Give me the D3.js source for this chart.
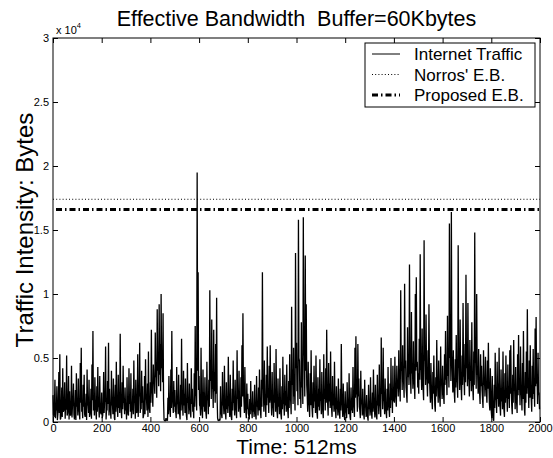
<!DOCTYPE html>
<html>
<head>
<meta charset="utf-8">
<script src="https://d3js.org/d3.v7.min.js"></script>
<style>
body { margin: 0; background: #fff; }
svg text { font-family: "Liberation Sans", Arial, Helvetica, sans-serif; fill: #000; }
.axis line { stroke: #000; }
.axis path { display: none; }
</style>
</head>
<body>
<div id="chart"></div>
<script>
// traffic intensity (bytes), samples at t = 0, 4, 8, ... (512ms units)
var trafficA = [
  2100, 400, 3300, 1200, 2800, 600, 3900, 5300, 300, 2700, 4200, 900, 3100, 1800, 5200, 700, 3600, 2400, 500, 4400, 1300, 3000, 200, 2500, 3800,
  1600, 3400, 800, 4600, 5800, 1100, 2900, 3700, 400, 2200, 4100, 1400, 3300, 600, 2600, 4500, 7100, 1900, 3500, 900, 2800, 4300, 1200, 3600, 700,
  2300, 500, 3900, 1700, 5900, 1000, 3200, 6200, 2600, 800, 4000, 1500, 3400, 300, 2900, 4700, 1100, 3700, 2000, 6900, 900, 3100, 4400, 1600, 2700,
  1300, 3500, 600, 4200, 2100, 3800, 900, 2600, 4800, 1500, 3300, 700, 5300, 2400, 6200, 1200, 4000, 2800, 500, 3600, 4900, 1800, 3000, 5500, 1000,
  3100, 7200, 2200, 4500, 3300, 7000, 4200, 8800, 5000, 9200, 6100, 10000, 5400, 8500, 200, 100, 300, 150, 1900, 3600, 900, 4100, 7100, 1400, 3200,
  2500, 800, 4300, 1600, 3700, 600, 2900, 6500, 1300, 4000, 2200, 3400, 500, 4600, 1800, 3000, 900, 4200, 2600, 1100, 3800, 7500, 2000, 19500, 11700,
  3600, 1200, 5800, 900, 4100, 2300, 3500, 700, 4700, 1900, 3300, 10300, 4400, 8000, 2700, 7200, 3900, 6100, 9700, 300, 150, 250, 2800, 600, 3900,
  1500, 4400, 700, 3100, 2000, 5100, 1200, 3700, 400, 2600, 4800, 1700, 3300, 900, 5600, 2300, 4000, 1000, 3500, 6000, 8500, 1800, 4300, 800, 3000,
  2200, 500, 1800, 3200, 900, 2400, 1200, 2900, 600, 3600, 1500, 2700, 4100, 800, 3300, 11700, 2500, 4800, 1300, 3700, 5900, 2100, 4400, 6000, 1600,
  3900, 1100, 4600, 2300, 5700, 800, 3400, 1900, 4200, 600, 2800, 5100, 1400, 3700, 2400, 4500, 900, 3200, 5300, 1700, 9000, 4100, 5800, 2600, 13200,
  6200, 3500, 15800, 4800, 2900, 7800, 3600, 16000, 5400, 13000, 9200, 2100, 4700, 1300, 3800, 5600, 1000, 3100, 4400, 2000, 5200, 700, 3500, 2600, 4900,
  1700, 3900, 800, 5300, 2500, 4200, 7200, 1400, 4600, 3000, 5500, 1100, 3600, 2200, 4700, 900, 2800, 1500, 3400, 700, 2600, 6100, 1200, 3000, 500,
  2400, 800, 3100, 1600, 3800, 400, 2700, 1900, 4300, 1100, 5800, 6700, 2200, 6100, 3400, 900, 4000, 1500, 2600, 600, 3300, 1200, 2100, 400, 2900,
  1400, 3500, 700, 2300, 4100, 1000, 2900, 500, 3700, 1800, 4500, 1200, 6600, 2800, 5800, 1600, 3400, 800, 2600, 4300, 1100, 3000, 5000, 2000, 4400,
  2700, 5100, 1800, 4400, 3300, 5600, 2500, 10300, 4200, 6000, 3100, 10800, 4800, 2200, 7400, 5300, 12300, 3600, 8600, 4400, 6300, 2900, 10000, 11300, 4700,
  3800, 6500, 13100, 4000, 7300, 2600, 14200, 5100, 8400, 3200, 5600, 9200, 2400, 4600, 1700, 3900, 5200, 1300, 3500, 6400, 2600, 4800, 1900, 5900, 3000,
  4400, 2100, 5300, 7100, 3600, 8300, 4700, 15500, 6200, 16400, 3900, 5600, 2300, 4900, 6800, 3100, 13800, 4200, 8000, 2800, 5200, 9300, 3500, 6100, 11500,
  5000, 9300, 3300, 6400, 4100, 7800, 2700, 5500, 14800, 4600, 10000, 3800, 5700, 2200, 5300, 4400, 1800, 5600, 3400, 5100, 2500, 4800, 6200, 1500, 4200,
  800, 3600, 200, 2900, 5400, 1700, 4700, 3000, 5800, 1200, 4100, 2400, 5500, 900, 3800, 5200, 1900, 4500, 2800, 5600, 6000, 1300, 3700, 6400, 2500,
  4300, 1500, 5300, 6800, 3200, 5900, 2100, 4600, 7100, 1000, 3900, 5500, 8800, 2600, 4800, 6000, 1800, 4400, 5700, 2900, 7300, 8200, 3500, 5400, 2300
];
// samples at t = 2, 6, 10, ...
var trafficB = [
  600, 1200, 300, 900, 150, 1500, 700, 200, 1100, 400, 800, 1300, 250, 950, 500, 1400, 200, 700, 1000, 350, 1600, 600, 900, 150, 1200,
  500, 1000, 200, 1500, 800, 300, 1200, 600, 900, 150, 1300, 700, 400, 1100, 250, 1700, 900, 500, 1400, 200, 800, 1200, 350, 1000, 600,
  300, 1100, 700, 1600, 200, 900, 1400, 500, 1000, 250, 1300, 600, 1800, 150, 800, 1500, 400, 1100, 700, 1900, 300, 1000, 1500, 600, 900,
  200, 1200, 500, 1400, 800, 300, 1100, 600, 1700, 250, 900, 1300, 400, 2000, 700, 1000, 1500, 300, 1200, 600, 1800, 900, 400, 1400, 700,
  1500, 2600, 1200, 3000, 2200, 3500, 1900, 4000, 2800, 3700, 2400, 4200, 3100, 1800, 100, 80, 120, 100, 600, 1300, 400, 1100, 2000, 700, 1200,
  800, 300, 1400, 600, 1100, 200, 900, 1800, 500, 1300, 700, 1000, 150, 1500, 600, 1100, 350, 1400, 800, 300, 1200, 2400, 900, 4000, 2500,
  1300, 500, 1600, 300, 1200, 800, 1400, 250, 1700, 600, 1200, 3200, 1800, 2600, 1100, 2400, 1500, 2200, 1900, 100, 80, 120, 900, 300, 1300,
  600, 1400, 200, 1000, 700, 1600, 400, 1200, 150, 900, 1500, 500, 1100, 300, 1800, 800, 1300, 350, 1200, 2000, 2600, 700, 1500, 300, 1000,
  700, 200, 600, 1100, 300, 800, 400, 1000, 200, 1200, 500, 900, 1400, 300, 1200, 3000, 800, 1600, 400, 1300, 1900, 700, 1500, 2000, 500,
  1300, 400, 1500, 800, 1900, 300, 1200, 600, 1400, 200, 1000, 1700, 500, 1300, 800, 1600, 300, 1100, 1800, 600, 2900, 1400, 2000, 900, 4200,
  2400, 1300, 5000, 1800, 1100, 2700, 1400, 5200, 2000, 4000, 2900, 800, 1600, 400, 1300, 2000, 350, 1100, 1600, 700, 1800, 250, 1200, 900, 1700,
  600, 1400, 300, 1800, 900, 1500, 2500, 500, 1600, 1100, 1900, 400, 1300, 800, 1600, 300, 1000, 500, 1200, 250, 900, 2000, 400, 1100, 150,
  800, 300, 1100, 600, 1400, 150, 900, 700, 1500, 400, 1900, 2200, 800, 2000, 1200, 300, 1400, 500, 900, 200, 1200, 400, 700, 100, 1000,
  500, 1200, 250, 800, 1500, 350, 1000, 200, 1300, 600, 1600, 400, 2200, 1000, 2000, 600, 1200, 300, 900, 1500, 400, 1100, 1700, 700, 1600,
  1500, 2800, 1200, 2600, 2000, 3000, 1600, 4000, 2500, 3200, 1900, 4200, 2700, 1500, 3500, 2900, 4500, 2200, 3800, 2600, 3300, 1800, 4000, 4300, 2700,
  2200, 3300, 4500, 2500, 3600, 1700, 4800, 2900, 3900, 2000, 3000, 3600, 1500, 2600, 1000, 2200, 2800, 800, 2000, 3200, 1500, 2600, 1200, 3000, 1800,
  2500, 1400, 2900, 3300, 2100, 3600, 2700, 5000, 3200, 5200, 2300, 3000, 1500, 2700, 3300, 1900, 4600, 2500, 3500, 1700, 2900, 3800, 2100, 3100, 4200,
  2800, 3600, 2000, 3200, 2400, 3400, 1700, 2900, 4800, 2600, 3700, 2200, 3000, 1400, 2800, 2500, 1100, 2900, 2000, 2700, 1500, 2600, 3000, 900, 2300,
  300, 1300, 100, 1100, 2000, 700, 1800, 1200, 2200, 500, 1600, 1000, 2100, 400, 1500, 2000, 800, 1800, 1100, 2200, 2400, 600, 1500, 2500, 1000,
  1700, 700, 2100, 2500, 1300, 2300, 900, 1800, 2700, 500, 1500, 2200, 3000, 1100, 1900, 2400, 800, 1800, 2200, 1200, 2800, 3000, 1400, 2100, 1000
];
var timeStep = 4;

var norrosEB = 17400;
var proposedEB = 16600;

var xTicks = [0, 200, 400, 600, 800, 1000, 1200, 1400, 1600, 1800, 2000];
var yTicks = [0, 5000, 10000, 15000, 20000, 25000, 30000];
var legendLabels = ["Internet Traffic", "Norros' E.B.", "Proposed E.B."];

// merge the two sample sets in time order
var trace = [];
trafficA.forEach(function(v, i) {
    trace.push({t: i * timeStep, v: v});
    trace.push({t: i * timeStep + timeStep / 2, v: trafficB[i]});
});

var margin = {top: 38, right: 13, bottom: 36, left: 53},
    width = 553 - margin.left - margin.right,
    height = 458 - margin.top - margin.bottom;

var svg = d3.select("#chart").append("svg")
    .attr("width", 553)
    .attr("height", 458)
    .style("background", "#fff");

var g = svg.append("g")
    .attr("transform", "translate(" + margin.left + "," + margin.top + ")");

var x = d3.scaleLinear().domain([0, 2000]).range([0, width]);
var y = d3.scaleLinear().domain([0, 30000]).range([height, 0]);

// traffic trace
var line = d3.line()
    .x(function(d) { return x(d.t); })
    .y(function(d) { return y(d.v); });

g.append("path")
    .datum(trace)
    .attr("fill", "none")
    .attr("stroke", "#000")
    .attr("stroke-width", 1.3)
    .attr("stroke-linejoin", "bevel")
    .attr("d", line);

// effective bandwidth lines
g.append("line")
    .attr("x1", x(0)).attr("x2", x(2000))
    .attr("y1", y(norrosEB)).attr("y2", y(norrosEB))
    .attr("stroke", "#000")
    .attr("stroke-width", 1)
    .attr("stroke-dasharray", "1,2.2");

g.append("line")
    .attr("x1", x(0) + 3).attr("x2", x(2000))
    .attr("y1", y(proposedEB)).attr("y2", y(proposedEB))
    .attr("stroke", "#000")
    .attr("stroke-width", 3)
    .attr("stroke-dasharray", "6,3,1.5,3");

// axes, ticks inside like matlab
var fmtY = function(d) { return d / 10000; };

g.append("g").attr("class", "axis")
    .attr("transform", "translate(0," + height + ")")
    .call(d3.axisBottom(x).tickValues(xTicks).tickFormat(d3.format("d")).tickSize(-5).tickPadding(2))
    .selectAll("text").attr("font-size", "11px");

g.append("g").attr("class", "axis")
    .call(d3.axisLeft(y).tickValues(yTicks).tickFormat(fmtY).tickSize(-5).tickPadding(4))
    .selectAll("text").attr("font-size", "11px");

g.append("g").attr("class", "axis")
    .call(d3.axisTop(x).tickValues(xTicks).tickSize(-5).tickFormat(""));

g.append("g").attr("class", "axis")
    .attr("transform", "translate(" + width + ",0)")
    .call(d3.axisRight(y).tickValues(yTicks).tickSize(-5).tickFormat(""));

g.append("rect")
    .attr("width", width).attr("height", height)
    .attr("fill", "none").attr("stroke", "#000").attr("stroke-width", 1);

// exponent label
var expo = svg.append("text")
    .attr("x", margin.left + 3)
    .attr("y", margin.top - 4)
    .attr("font-size", "11px");
expo.append("tspan").text("x 10");
expo.append("tspan").attr("dy", -6).attr("font-size", "7.5px").text("4");

// titles
svg.append("text")
    .attr("x", margin.left + width / 2)
    .attr("y", 26)
    .attr("text-anchor", "middle")
    .attr("font-size", "21.5px")
    .attr("xml:space", "preserve")
    .style("white-space", "pre")
    .text("Effective Bandwidth  Buffer=60Kbytes");

svg.append("text")
    .attr("x", margin.left + width / 2)
    .attr("y", 453.5)
    .attr("text-anchor", "middle")
    .attr("font-size", "21px")
    .text("Time: 512ms");

svg.append("text")
    .attr("transform", "translate(33," + (margin.top + height / 2) + ") rotate(-90)")
    .attr("text-anchor", "middle")
    .attr("font-size", "24px")
    .text("Traffic Intensity: Bytes");

// legend
var legend = svg.append("g").attr("transform", "translate(365,43)");
legend.append("rect")
    .attr("width", 170).attr("height", 64)
    .attr("fill", "#fff").attr("stroke", "#000").attr("stroke-width", 1);

var legendStyles = [
    {w: 1, dash: null},
    {w: 1, dash: "1,2.2"},
    {w: 3, dash: "6,3,1.5,3"}
];

legendLabels.forEach(function(lbl, i) {
    var yy = 17 + i * 20.5;
    legend.append("line")
        .attr("x1", 7).attr("x2", 35)
        .attr("y1", yy - 6).attr("y2", yy - 6)
        .attr("stroke", "#000")
        .attr("stroke-width", legendStyles[i].w)
        .attr("stroke-dasharray", legendStyles[i].dash);
    legend.append("text")
        .attr("x", 49).attr("y", yy)
        .attr("font-size", "17px")
        .text(lbl);
});
</script>
</body>
</html>
